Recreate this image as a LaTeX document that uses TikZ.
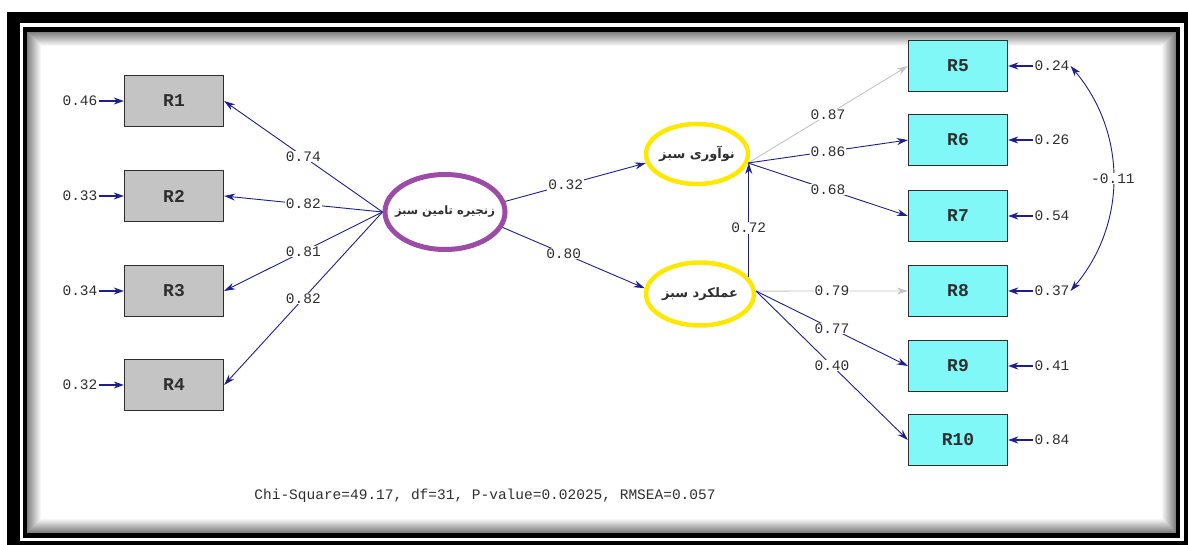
\documentclass[tikz,border=0pt]{standalone}
\usepackage{fontspec}
\setmonofont{Liberation Mono}
\newfontfamily\farsifont[Script=Arabic]{DejaVu Sans}
\TeXXeTstate=1
\usetikzlibrary{arrows.meta,%
                shapes,positioning}
\definecolor{pathblue}{HTML}{1E1E8C}
\definecolor{boxgray}{HTML}{C4C4C4}
\definecolor{boxcyan}{HTML}{80F8F8}
\definecolor{latpurple}{HTML}{9C4BA6}
\definecolor{latyellow}{HTML}{FFE800}
\definecolor{lightpath}{HTML}{C4C4C4}
\definecolor{txtgray}{HTML}{2E2E2E}
\newcommand{\fa}[1]{\makebox[0pt]{\beginR #1\endR}}

\begin{document}
\begin{tikzpicture}[x=1pt,y=-1pt,
  obs/.style={draw=txtgray, line width=1.3pt, minimum width=99pt, minimum height=51pt,
              inner sep=0pt, text=txtgray, font=\ttfamily\bfseries\fontsize{18}{18}\selectfont},
  xobs/.style={obs, fill=boxgray},
  yobs/.style={obs, fill=boxcyan},
  lat/.style={ellipse, line width=4.5pt, inner sep=0pt, text=txtgray,
              font=\farsifont\bfseries\fontsize{13}{13}\selectfont},
  num/.style={text=txtgray, inner sep=1pt, font=\ttfamily\fontsize{14.5}{14.5}\selectfont},
  coef/.style={num, fill=white},
  link/.style={draw=pathblue, line width=0.9pt, -{Stealth[length=11pt,width=7pt]}},
  weak/.style={link, draw=lightpath},
  err/.style={draw=pathblue, line width=1.5pt, -{Stealth[length=10pt,width=7pt]}}]
\useasboundingbox (0,0) rectangle (1188,545);
% frame
\fill[white] (0,0) rectangle (1188,545);
\fill[black] (7,12) rectangle (1188,545);
\fill[white] (20,23) rectangle (1184,541);
\fill[black] (23,27) rectangle (1180,538);
\fill[white] (27,32) rectangle (1176,533);
\foreach \i [evaluate=\i as \op using 0.5*(1-\i/14)] in {0,...,13}
  \draw[black, opacity=\op, line width=1pt] (27.5+\i,32.5+\i) rectangle (1175.5-\i,532.5-\i);

% observed variables
\node[xobs] (R1) at (174,101) {R1};
\node[xobs] (R2) at (174,196) {R2};
\node[xobs] (R3) at (174,291) {R3};
\node[xobs] (R4) at (174,385) {R4};
\node[yobs] (R5) at (958,66) {R5};
\node[yobs] (R6) at (958,140) {R6};
\node[yobs] (R7) at (958,216) {R7};
\node[yobs] (R8) at (958,291) {R8};
\node[yobs] (R9) at (958,366) {R9};
\node[yobs] (R10) at (958,440) {R10};

% latent variables
\node[lat, draw=latpurple, line width=5pt, minimum width=120pt, minimum height=75pt,
      font=\farsifont\bfseries\fontsize{11.5}{12}\selectfont] (supply) at (445,212)
  {\fa{زنجیره تامین سبز}};
\node[lat, draw=latyellow, minimum width=102pt, minimum height=60pt] (innov) at (697,154)
  {\fa{نوآوری سبز}};
\node[lat, draw=latyellow, minimum width=108pt, minimum height=63pt] (perf) at (700,294)
  {\fa{عملکرد سبز}};

% error variances
\node[num] (e1) at (80,101) {0.46};
\node[num] (e2) at (80,196) {0.33};
\node[num] (e3) at (80,291) {0.34};
\node[num] (e4) at (80,385) {0.32};
\node[num] (e5) at (1052,66) {0.24};
\node[num] (e6) at (1052,140) {0.26};
\node[num] (e7) at (1052,216) {0.54};
\node[num] (e8) at (1052,291) {0.37};
\node[num] (e9) at (1052,366) {0.41};
\node[num] (e10) at (1052,440) {0.84};
\foreach \k in {1,...,10}
  \draw[err] (e\k) -- (R\k);

% loadings
\draw[link] (supply.west) -- node[coef] {0.74} (R1.east);
\draw[link] (supply.west) -- node[coef] {0.82} (R2.east);
\draw[link] (supply.west) -- node[coef] {0.81} (R3.east);
\draw[link] (supply.west) -- node[coef] {0.82} (R4.east);
\draw[link] (supply.10) -- node[coef, pos=0.43] {0.32} (innov.190);
\draw[link] (supply.-15) -- node[coef, pos=0.43] {0.80} (perf.174);
\draw[link] (perf.19) -- node[coef, pos=0.43] {0.72} (perf.19 |- innov.-10);
\draw[weak] (innov.-10) -- node[coef] {0.87} (R5.west);
\draw[link] (innov.-10) -- node[coef] {0.86} (R6.west);
\draw[link] (innov.-10) -- node[coef] {0.68} (R7.west);
\draw[weak] (perf.3) -- node[coef] {0.79} (R8.west);
\draw[link] (perf.3) -- node[coef] {0.77} (R9.west);
\draw[link] (perf.3) -- node[coef] {0.40} (R10.west);

% error covariance
\draw[link, {Stealth[length=11pt,width=7pt]}-{Stealth[length=11pt,width=7pt]}]
  (e5.east) to[bend left=40] node[coef] {-0.11} (e8.east);

\node[num] (fit) at (485,496) {Chi-Square=49.17, df=31, P-value=0.02025, RMSEA=0.057};
\end{tikzpicture}
\end{document}
